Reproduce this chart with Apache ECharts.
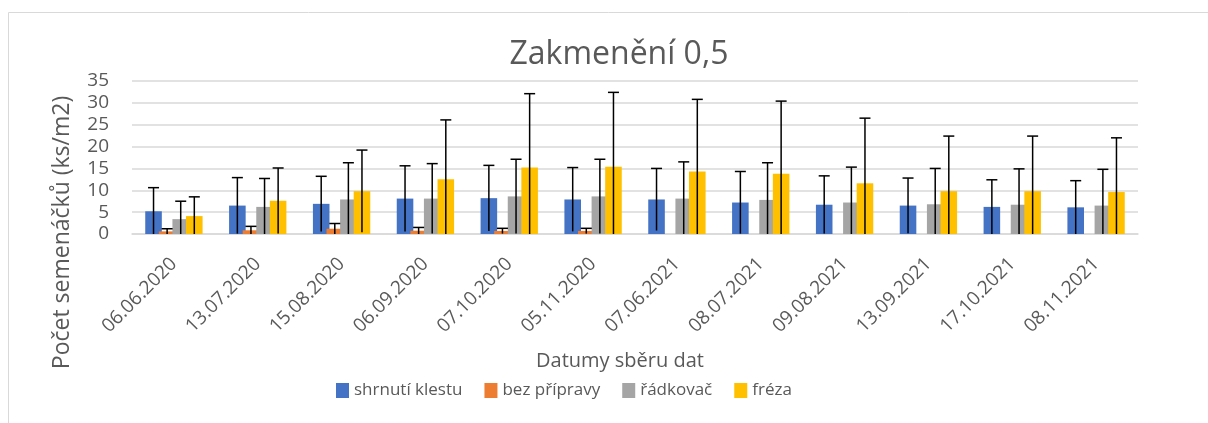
<!DOCTYPE html>
<html lang="cs">
<head>
  <meta charset="UTF-8">
  <title>Zakmenění 0,5</title>
  <script src="https://cdn.jsdelivr.net/npm/echarts@6/dist/echarts.min.js"></script>
  <style>
    body { margin: 0; background: #fff; }
    #chart { width: 1208px; height: 423px; }
  </style>
</head>
<body>
<div id="chart"></div>
<script>
  // data
  const dates = ['06.06.2020', '13.07.2020', '15.08.2020', '06.09.2020', '07.10.2020', '05.11.2020',
    '07.06.2021', '08.07.2021', '09.08.2021', '13.09.2021', '17.10.2021', '08.11.2021'];
  const seriesNames = ['shrnutí klestu', 'bez přípravy', 'řádkovač', 'fréza'];
  const colors = ['#4472C4', '#ED7D31', '#A5A5A5', '#FFC000'];

  const shrnuti = [5.2, 6.5, 6.9, 8.1, 8.2, 7.9, 7.9, 7.2, 6.7, 6.5, 6.2, 6.1];
  const shrnutiErr = [5.4, 6.4, 6.3, 7.5, 7.5, 7.3, 7.1, 7.1, 6.6, 6.3, 6.2, 6.1];
  const bez = [0.6, 0.85, 1.2, 0.75, 0.7, 0.7, null, null, null, null, null, null];
  const bezErr = [0.6, 0.9, 1.2, 0.75, 0.6, 0.6, null, null, null, null, null, null];
  const radkovac = [3.4, 6.2, 7.9, 8.1, 8.6, 8.6, 8.1, 7.8, 7.2, 6.8, 6.7, 6.5];
  const radkovacErr = [4.1, 6.5, 8.4, 8.0, 8.5, 8.5, 8.4, 8.5, 8.1, 8.2, 8.2, 8.3];
  const freza = [4.1, 7.6, 9.8, 12.5, 15.2, 15.4, 14.3, 13.8, 11.6, 9.8, 9.8, 9.6];
  const frezaErr = [4.4, 7.5, 9.4, 13.6, 16.9, 17.0, 16.5, 16.6, 14.9, 12.6, 12.6, 12.4];

  const values = [shrnuti, bez, radkovac, freza];
  const errors = [shrnutiErr, bezErr, radkovacErr, frezaErr];

  const CAT_GAP = 0.316;
  const BAR_GAP = -0.18;
  const FONT = '"Open Sans", sans-serif';
  const TEXT = '#595959';

  let chart = echarts.init(document.getElementById('chart'));

  // error bar drawn at the centre of the matching bar
  function errorSeries(idx) {
    let data = [];
    values[idx].forEach(function (v, i) {
      if (v != null) data.push([i, v, errors[idx][i]]);
    });
    return {
      type: 'custom',
      name: 'err' + idx,
      z: 5,
      renderItem: function (params, api) {
        const i = api.value(0), v = api.value(1), e = api.value(2);
        const band = api.size([1, 0])[0];
        const gw = band * (1 - CAT_GAP);
        const bw = gw / (4 + 3 * BAR_GAP);
        const x = api.coord([i, 0])[0] - gw / 2 + bw / 2 + idx * bw * (1 + BAR_GAP);
        const top = api.coord([i, v + e])[1];
        const bot = api.coord([i, Math.max(0, v - e)])[1];
        const st = {stroke: '#000', lineWidth: 1.5};
        return {
          type: 'group',
          children: [
            {type: 'line', shape: {x1: x, y1: bot, x2: x, y2: top}, style: st},
            {type: 'line', shape: {x1: x - 5.5, y1: top, x2: x + 5.5, y2: top}, style: st}
          ]
        };
      },
      data: data
    };
  }

  let series = [];
  seriesNames.forEach(function (name, idx) {
    series.push({
      name: name,
      type: 'bar',
      barGap: (BAR_GAP * 100) + '%',
      barCategoryGap: (CAT_GAP * 100) + '%',
      itemStyle: {color: colors[idx]},
      data: values[idx]
    });
  });
  seriesNames.forEach(function (name, idx) {
    series.push(errorSeries(idx));
  });

  let option = {
    animation: false,
    textStyle: {fontFamily: FONT},
    graphic: [{
      type: 'rect',
      shape: {x: 8.5, y: 12.5, width: 1400, height: 600},
      style: {fill: 'none', stroke: '#d9d9d9', lineWidth: 1}
    }],
    title: {
      text: 'Zakmenění 0,5',
      left: 614,
      textAlign: 'center',
      top: 34,
      textStyle: {fontFamily: FONT, fontSize: 32, fontWeight: 'normal', color: TEXT}
    },
    legend: {
      data: seriesNames,
      left: 336,
      top: 382,
      padding: 0,
      itemWidth: 13,
      itemHeight: 15,
      itemGap: 22,
      icon: 'rect',
      textStyle: {fontFamily: FONT, fontSize: 17, color: TEXT}
    },
    grid: {left: 132, right: 70, top: 81, bottom: 189},
    xAxis: {
      type: 'category',
      data: dates,
      name: 'Datumy sběru dat',
      nameLocation: 'middle',
      nameGap: 117,
      nameTextStyle: {fontFamily: FONT, fontSize: 20, color: TEXT, padding: [0, 30, 0, 0]},
      axisTick: {show: false},
      axisLine: {lineStyle: {color: '#d9d9d9', width: 1.5}},
      axisLabel: {rotate: 45, interval: 0, margin: 27, fontFamily: FONT, fontSize: 19, color: TEXT}
    },
    yAxis: {
      type: 'value',
      min: 0,
      max: 35,
      interval: 5,
      name: 'Počet semenáčků (ks/m2)',
      nameLocation: 'middle',
      nameGap: 58,
      nameTextStyle: {fontFamily: FONT, fontSize: 23, color: TEXT, padding: [0, 150, 0, 0]},
      axisLine: {show: false},
      axisTick: {show: false},
      splitLine: {lineStyle: {color: '#d9d9d9', width: 1.5}},
      axisLabel: {margin: 23, fontFamily: FONT, fontSize: 19, color: TEXT}
    },
    series: series
  };
  chart.setOption(option);
</script>
</body>
</html>
